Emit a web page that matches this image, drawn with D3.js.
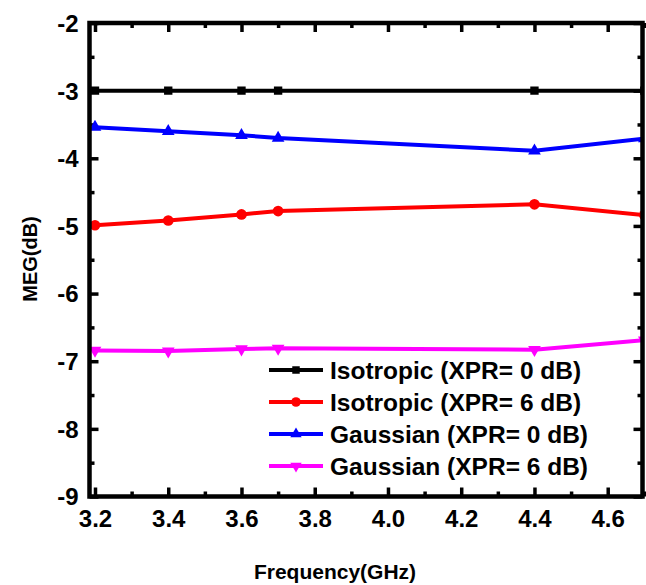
<!DOCTYPE html>
<html>
<head>
<meta charset="utf-8">
<script src="https://cdn.jsdelivr.net/npm/d3@7"></script>
<style>
	body { margin: 0; background: #fff; }
	text { font-family: "Liberation Sans", Arial, sans-serif; font-weight: bold; fill: #000; }
</style>
</head>
<body>
<div id="data-figure"></div>
<script>
// données
var frequences = [3.2, 3.4, 3.6, 3.7, 4.4, 4.7];
var isoXpr0 = [-3, -3, -3, -3, -3, -3];
var isoXpr6 = [-4.99, -4.92, -4.83, -4.78, -4.68, -4.84];
var gaussXpr0 = [-3.54, -3.60, -3.66, -3.70, -3.89, -3.71];
var gaussXpr6 = [-6.84, -6.85, -6.82, -6.81, -6.83, -6.69];
var nomsSeries = ["Isotropic (XPR= 0 dB)", "Isotropic (XPR= 6 dB)", "Gaussian (XPR= 0 dB)", "Gaussian (XPR= 6 dB)"];
var xTicks = [3.2, 3.4, 3.6, 3.8, 4.0, 4.2, 4.4, 4.6];
var yTicks = [-9, -8, -7, -6, -5, -4, -3, -2];

window.onload = function () {

	var width = 646,
		height = 585;
	var gauche = 89.5, droite = 642.5, haut = 23, bas = 496.5;

	var series = [
		{ nom: nomsSeries[0], valeurs: isoXpr0, couleur: "#000000", symbole: d3.symbolSquare, taille: 70, rot: 0 },
		{ nom: nomsSeries[1], valeurs: isoXpr6, couleur: "#ff0000", symbole: d3.symbolCircle, taille: 90, rot: 0 },
		{ nom: nomsSeries[2], valeurs: gaussXpr0, couleur: "#0000ff", symbole: d3.symbolTriangle, taille: 70, rot: 0 },
		{ nom: nomsSeries[3], valeurs: gaussXpr6, couleur: "#ff00ff", symbole: d3.symbolTriangle, taille: 70, rot: 180 }
	];

	var x = d3.scaleLinear().domain([3.185, 4.695]).range([gauche, droite]);
	var y = d3.scaleLinear().domain([-9, -2]).range([bas, haut]);

	var svg = d3.select("#data-figure").append("svg")
		.attr("width", width)
		.attr("height", height);

	svg.append("defs").append("clipPath").attr("id", "zone")
		.append("rect")
		.attr("x", gauche).attr("y", haut)
		.attr("width", droite - gauche).attr("height", bas - haut);

	// graduations mineures
	var xMineurs = d3.range(3.3, 4.7, 0.2);
	var yMineurs = d3.range(-8.5, -2, 1);

	function axe(gen, transform, ticks, taille, labels) {
		var g = svg.append("g")
			.attr("transform", transform)
			.call(gen.tickValues(ticks).tickSize(taille).tickSizeOuter(0)
				.tickFormat(labels ? labels : ""));
		g.select(".domain").remove();
		g.selectAll(".tick line").attr("stroke", "#000").attr("stroke-width", 3.5);
		return g;
	}

	// bas
	var gx = axe(d3.axisBottom(x), "translate(0," + bas + ")", xTicks, -9, function (d) { return d.toFixed(1); });
	gx.selectAll("text").attr("y", 13).attr("dy", "0.71em").style("font-size", "24px");
	axe(d3.axisBottom(x), "translate(0," + bas + ")", xMineurs, -5);
	// haut
	axe(d3.axisTop(x), "translate(0," + haut + ")", xTicks, -9);
	axe(d3.axisTop(x), "translate(0," + haut + ")", xMineurs, -5);
	// gauche
	var gy = axe(d3.axisLeft(y), "translate(" + gauche + ",0)", yTicks, -9, function (d) { return String(d); });
	gy.selectAll("text").attr("x", -11).attr("dy", "0.35em").style("font-size", "24px");
	axe(d3.axisLeft(y), "translate(" + gauche + ",0)", yMineurs, -5);
	// droite
	axe(d3.axisRight(y), "translate(" + droite + ",0)", yTicks, -9);
	axe(d3.axisRight(y), "translate(" + droite + ",0)", yMineurs, -5);

	// courbes
	var plot = svg.append("g").attr("clip-path", "url(#zone)");
	var ligne = d3.line()
		.x(function (d, i) { return x(frequences[i]); })
		.y(function (d) { return y(d); });

	series.forEach(function (s) {
		plot.append("path")
			.attr("d", ligne(s.valeurs))
			.attr("fill", "none")
			.attr("stroke", s.couleur)
			.attr("stroke-width", 4);
		plot.selectAll(null)
			.data(s.valeurs)
			.enter().append("path")
			.attr("d", d3.symbol().type(s.symbole).size(s.taille))
			.attr("fill", s.couleur)
			.attr("transform", function (d, i) {
				return "translate(" + x(frequences[i]) + "," + y(d) + ") rotate(" + s.rot + ")";
			});
	});

	// cadre
	svg.append("rect")
		.attr("x", gauche).attr("y", haut)
		.attr("width", droite - gauche).attr("height", bas - haut)
		.attr("fill", "none")
		.attr("stroke", "#000")
		.attr("stroke-width", 4.5);

	// légende
	var legende = svg.append("g").attr("transform", "translate(269,370)");
	series.forEach(function (s, i) {
		var rang = legende.append("g").attr("transform", "translate(0," + (i * 32) + ")");
		rang.append("line")
			.attr("x1", 0).attr("x2", 54)
			.attr("stroke", s.couleur).attr("stroke-width", 4);
		rang.append("path")
			.attr("d", d3.symbol().type(s.symbole).size(s.taille * 0.8))
			.attr("fill", s.couleur)
			.attr("transform", "translate(27,0) rotate(" + s.rot + ")");
		rang.append("text")
			.attr("x", 61)
			.attr("dy", "0.35em")
			.style("font-size", "24.5px")
			.text(s.nom);
	});

	// titres des axes
	svg.append("text")
		.attr("x", 335).attr("y", 579)
		.attr("text-anchor", "middle")
		.style("font-size", "21px")
		.text("Frequency(GHz)");

	svg.append("text")
		.attr("transform", "translate(37,259) rotate(-90)")
		.attr("text-anchor", "middle")
		.style("font-size", "20px")
		.text("MEG(dB)");
};
</script>
</body>
</html>
